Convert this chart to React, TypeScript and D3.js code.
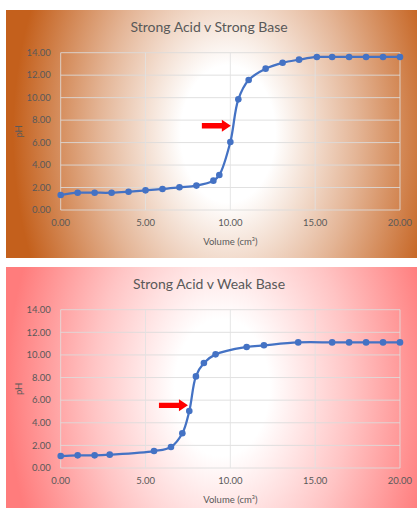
import React from "react";
import * as d3 from "d3";

const xTicks = [0, 5, 10, 15, 20];
const yTicks = [0, 2, 4, 6, 8, 10, 12, 14];

const sasbVolume = [0, 1, 2, 3, 4, 5, 6, 7, 8, 9, 9.35, 10.0, 10.47, 11.08, 12.08, 13.08, 14.05, 15.1, 16, 17, 18, 19, 20];
const sasbPH = [1.33, 1.54, 1.54, 1.54, 1.63, 1.75, 1.87, 2.02, 2.17, 2.61, 3.11, 6.05, 9.85, 11.57, 12.58, 13.1, 13.38, 13.62, 13.62, 13.62, 13.62, 13.62, 13.62];

const sawbVolume = [0, 1, 2, 2.89, 5.5, 6.5, 7.17, 7.58, 7.97, 8.44, 9.13, 10.96, 11.98, 14.0, 16, 17, 18, 19, 20];
const sawbPH = [1.06, 1.12, 1.12, 1.18, 1.5, 1.86, 3.07, 5.04, 8.1, 9.28, 10.05, 10.7, 10.85, 11.11, 11.11, 11.11, 11.11, 11.11, 11.11];

const titles = ["Strong Acid v Strong Base", "Strong Acid v Weak Base"];
const xAxisTitle = "Volume (cm³)";
const yAxisTitle = "pH";
const arrowTips = [
  [10.03, 7.5],
  [7.5, 5.54],
];

const FONT = "Lato, 'Open Sans', sans-serif";

type ChartProps = {
  id: string;
  top: number;
  panelH: number;
  plotTop: number;
  plotBottom: number;
  title: string;
  titleY: number;
  xs: number[];
  ys: number[];
  edge: string;
  mid: string;
  gcx: number;
  arrow: number[];
};

function Chart(p: ChartProps) {
  const left = 60.7;
  const right = 400;
  const x = d3.scaleLinear().domain([0, 20]).range([left, right]);
  const y = d3.scaleLinear().domain([0, 14]).range([p.plotBottom, p.plotTop]);
  const pts = p.xs.map((v, i) => [v, p.ys[i]] as [number, number]);
  const line = d3
    .line<[number, number]>()
    .x((d) => x(d[0]))
    .y((d) => y(d[1]))
    .curve(d3.curveCatmullRom.alpha(0.5));
  const ax = x(p.arrow[0]);
  const ay = y(p.arrow[1]);
  const gray = "#595959";
  const cy = p.top + p.panelH * 0.5;
  const sy = 1.45;
  return (
    <g>
      <defs>
        <radialGradient
          id={p.id}
          gradientUnits="userSpaceOnUse"
          cx={p.gcx}
          cy={cy}
          r={215}
          gradientTransform={`translate(0,${cy}) scale(1,${sy}) translate(0,${-cy})`}
        >
          <stop offset="0%" stopColor="#ffffff" />
          <stop offset="22%" stopColor="#ffffff" />
          <stop offset="60%" stopColor={p.mid} />
          <stop offset="100%" stopColor={p.edge} />
        </radialGradient>
      </defs>
      <rect x={6} y={p.top} width={411} height={p.panelH} fill={`url(#${p.id})`} />
      {yTicks.map((t) => (
        <line key={"h" + t} x1={left} x2={right} y1={y(t)} y2={y(t)} stroke="#dcdcdc" strokeWidth={1} opacity={0.85} />
      ))}
      {xTicks.map((t) => (
        <line key={"v" + t} x1={x(t)} x2={x(t)} y1={p.plotTop} y2={p.plotBottom} stroke="#e2e2e2" strokeWidth={1} opacity={0.8} />
      ))}
      {yTicks.map((t) => (
        <text key={"yl" + t} x={50.7} y={y(t)} dy="0.35em" textAnchor="end" fontSize={9.5} fill={gray} fontFamily={FONT}>
          {t.toFixed(2)}
        </text>
      ))}
      {xTicks.map((t) => (
        <text key={"xl" + t} x={x(t)} y={p.plotBottom + 13} dy="0.35em" textAnchor="middle" fontSize={9.5} fill={gray} fontFamily={FONT}>
          {t.toFixed(2)}
        </text>
      ))}
      <text x={(left + right) / 2} y={p.plotBottom + 32} dy="0.35em" textAnchor="middle" fontSize={9.5} fill={gray} fontFamily={FONT}>
        {xAxisTitle}
      </text>
      <text
        transform={`translate(19,${(p.plotTop + p.plotBottom) / 2}) rotate(-90)`}
        textAnchor="middle"
        dy="0.35em"
        fontSize={9.5}
        fill={gray}
        fontFamily={FONT}
      >
        {yAxisTitle}
      </text>
      <text x={209} y={p.titleY} dy="0.35em" textAnchor="middle" fontSize={14} fill={gray} fontFamily={FONT}>
        {p.title}
      </text>
      <path d={line(pts) || ""} fill="none" stroke="#4472C4" strokeWidth={2.25} />
      {pts.map((d, i) => (
        <circle key={i} cx={x(d[0])} cy={y(d[1])} r={3.3} fill="#4472C4" />
      ))}
      <path
        d={`M${ax - 29},${ay - 2.7} L${ax - 9},${ay - 2.7} L${ax - 9},${ay - 6} L${ax},${ay} L${ax - 9},${ay + 6} L${ax - 9},${ay + 2.7} L${ax - 29},${ay + 2.7} Z`}
        fill="#ff0000"
      />
    </g>
  );
}

export default function App() {
  return (
    <svg width={417} height={508} style={{ position: "absolute", left: 0, top: 0, background: "#fff" }}>
      <Chart
        id="g1"
        top={10}
        panelH={248}
        plotTop={52.7}
        plotBottom={210}
        title={titles[0]}
        titleY={27.5}
        xs={sasbVolume}
        ys={sasbPH}
        edge="#c4601c"
        mid="#e4b596"
        gcx={228}
        arrow={arrowTips[0]}
      />
      <Chart
        id="g2"
        top={267}
        panelH={241}
        plotTop={309.7}
        plotBottom={468}
        title={titles[1]}
        titleY={284.5}
        xs={sawbVolume}
        ys={sawbPH}
        edge="#ff7c7c"
        mid="#ffc4c4"
        gcx={222}
        arrow={arrowTips[1]}
      />
    </svg>
  );
}
